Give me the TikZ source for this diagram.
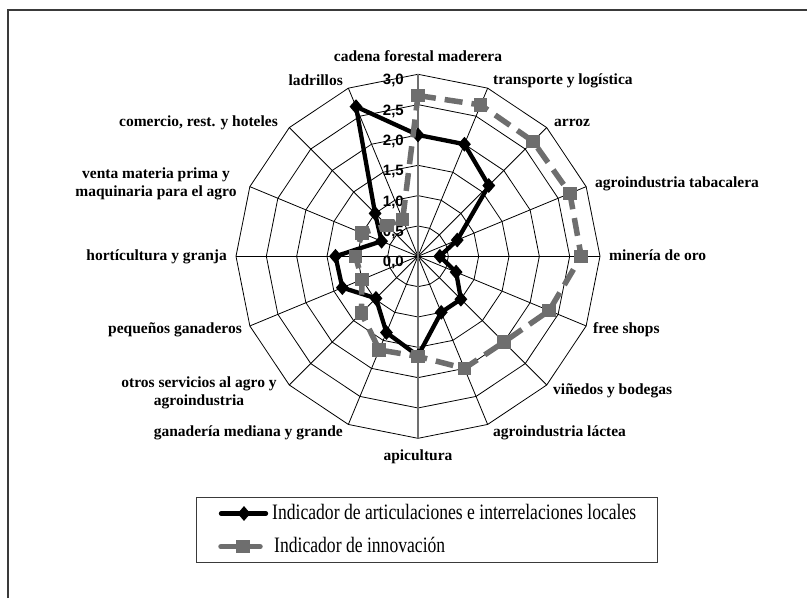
\documentclass[tikz,border=0pt]{standalone}
\usepackage{fontspec}
\setmainfont{Liberation Serif}
\newfontfamily\axfont{Liberation Sans}
\newfontfamily\legfont[FakeStretch=0.8]{Liberation Serif}
\usetikzlibrary{shapes.geometric}
\definecolor{gcol}{HTML}{6E6E6E}
\definecolor{axcol}{HTML}{707070}
\definecolor{framecol}{HTML}{3A3A3A}
\begin{document}
\begin{tikzpicture}[x=1pt,y=-1pt,
  gridline/.style={black, line width=0.8pt},
  axisline/.style={axcol, line width=1.3pt},
  cat/.style={font=\fontsize{15.5}{17.5}\selectfont\bfseries, inner sep=0pt, text height=11pt, text depth=3.5pt},
  catml/.style={font=\fontsize{15.5}{17.5}\selectfont\bfseries, inner sep=0pt, align=center},
  val/.style={font=\axfont\fontsize{15}{15}\selectfont\bfseries, inner sep=0pt, anchor=east, text height=10.5pt, text depth=0pt},
  bline/.style={black, line width=4.3pt, line join=round},
  gline/.style={gcol, line width=5.5pt, dash pattern=on 18pt off 9pt},
  bmark/.style={diamond, fill=black, inner sep=0pt, minimum width=13pt, minimum height=15pt},
  gmark/.style={rectangle, fill=gcol, inner sep=0pt, minimum size=13.5pt},
  legtext/.style={font=\legfont\fontsize{22}{24}\selectfont, inner sep=0pt, anchor=west, text height=14pt, text depth=4.5pt},
  legbox/.style={draw=framecol, line width=1pt},
  frameline/.style={framecol, line width=2pt}
]
\def\cx{418}
\def\cy{256.3}
\def\u{60.67}
\fill[white] (0,0) rectangle (807,598);
\useasboundingbox (0,0) rectangle (807,598);
\draw[frameline] (7.7,598) -- (7.7,10) -- (807,10);

% grid
\coordinate (c) at (\cx,\cy);
\foreach \k in {1,...,6}{
  \foreach \i in {0,...,15}{
    \coordinate (r\k-\i) at ({\cx+\k*0.5*\u*sin(\i*22.5)},{\cy-\k*0.5*\u*cos(\i*22.5)});
  }
  \draw[gridline] (r\k-0) \foreach \i in {1,...,15}{ -- (r\k-\i)} -- cycle;
}
\foreach \i in {1,...,7,9,10,...,15}{
  \draw[gridline] (c) -- (r6-\i);
}
\draw[axisline] (r6-8) -- (r6-0);

% value labels
\foreach \k/\t in {0/{0,0},1/{0,5},2/{1,0},3/{1,5},4/{2,0},5/{2,5},6/{3,0}}{
  \node[val] (v\k) at (404,{\cy-\k*0.5*\u+5.2}) {\t};
}

% series 1 (black)
\foreach \i/\v in {0/2.0,1/2.0,2/1.65,3/0.7,4/0.36,5/0.68,6/1.0,7/1.0,8/1.64,9/1.36,10/0.98,11/1.35,12/1.36,13/0.65,14/1.0,15/2.67}{
  \coordinate (b\i) at ({\cx+\v*\u*sin(\i*22.5)},{\cy-\v*\u*cos(\i*22.5)});
}
\draw[bline] (b0) \foreach \i in {1,...,15}{ -- (b\i)} -- cycle;
\foreach \i in {0,...,15}{ \node[bmark] (bm\i) at (b\i) {}; }

% series 2 (gray)
\foreach \i/\v in {0/2.65,1/2.7,2/2.68,3/2.71,4/2.69,5/2.34,6/2.0,7/2.0,8/1.65,9/1.67,10/1.32,11/1.0,12/1.03,13/1.0,14/0.72,15/0.66}{
  \coordinate (g\i) at ({\cx+\v*\u*sin(\i*22.5)},{\cy-\v*\u*cos(\i*22.5)});
}
\draw[gline] (g0) \foreach \i in {1,...,15}{ -- (g\i)} -- cycle;
\foreach \i in {0,...,15}{ \node[gmark] (gm\i) at (g\i) {}; }

% category labels
\node[cat] (l0) at (418,57.5) {cadena forestal maderera};
\node[cat, anchor=west] (l1) at (493,81) {transporte y logística};
\node[cat, anchor=west] (l2) at (554,123) {arroz};
\node[cat, anchor=west] (l3) at (595,183.5) {agroindustria tabacalera};
\node[cat, anchor=west] (l4) at (609,257) {minería de oro};
\node[cat, anchor=west] (l5) at (593,330) {free shops};
\node[cat, anchor=west] (l6) at (553,391) {viñedos y bodegas};
\node[cat, anchor=west] (l7) at (493,433) {agroindustria láctea};
\node[cat] (l8) at (418,457) {apicultura};
\node[cat, anchor=east] (l9) at (343,433) {ganadería mediana y grande};
\node[catml] (l10) at (199,393) {otros servicios al agro y\\agroindustria};
\node[cat, anchor=east] (l11) at (242,330) {pequeños ganaderos};
\node[cat, anchor=east] (l12) at (227,257) {hortícultura y granja};
\node[catml] (l13) at (156,184) {venta materia prima y\\maquinaria para el agro};
\node[cat, anchor=east] (l14) at (278,123) {comercio, rest. y hoteles};
\node[cat, anchor=east] (l15) at (343,82) {ladrillos};

% legend
\draw[legbox] (196,497) rectangle (657,562);
\coordinate (la1) at (221,513.5);
\coordinate (lb1) at (266,513.5);
\coordinate (la2) at (221,546.7);
\coordinate (lb2) at (260,546.7);
\draw[black, line width=4.3pt, line cap=round] (la1) -- (lb1);
\node[bmark] (lm1) at (244,513.5) {};
\draw[gcol, line width=5.5pt, line cap=round] (la2) -- (lb2);
\node[gmark] (lm2) at (243,546.7) {};
\node[legtext] (lt1) at (272,515) {Indicador de articulaciones e interrelaciones locales};
\node[legtext] (lt2) at (274,548) {Indicador de innovación};
\end{tikzpicture}
\end{document}
